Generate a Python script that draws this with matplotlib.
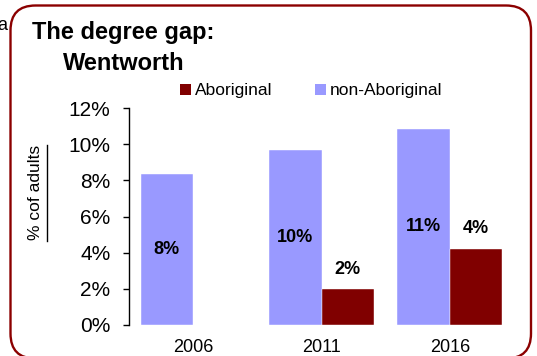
import matplotlib
matplotlib.use("Agg")
import matplotlib.pyplot as plt
import numpy as np
from matplotlib.patches import FancyBboxPatch, Patch
from matplotlib.lines import Line2D

plt.rcParams['font.family'] = ['Liberation Sans', 'DejaVu Sans']

years = ["2006", "2011", "2016"]
non_aboriginal = [8.35, 9.65, 10.85]
aboriginal = [0.0, 1.98, 4.2]
non_ab_labels = ["8%", "10%", "11%"]
ab_labels = ["", "2%", "4%"]
yticks = [0, 2, 4, 6, 8, 10, 12]
title_lines = ["The degree gap:", "Wentworth"]

W, H = 537, 356
fig = plt.figure(figsize=(W / 100, H / 100), dpi=100)

# background overlay for border (pixel coordinates, y measured from top)
bg = fig.add_axes([0, 0, 1, 1], zorder=0)
bg.set_xlim(0, W)
bg.set_ylim(0, H)
bg.axis('off')

def Y(py):
    return H - py

top_px, bot_px = 5.5, 358.5
border = FancyBboxPatch((10.5, Y(bot_px)), 520.5, bot_px - top_px,
                        boxstyle="round,pad=0,rounding_size=25",
                        fill=False, edgecolor='#8B0000', linewidth=1.7)
bg.add_patch(border)
bg.text(-3, Y(26), "a", fontsize=13, va='center', ha='left', color='black')
bg.text(123.5, Y(33), title_lines[0], fontsize=17, fontweight='bold', ha='center', va='center')
bg.text(123.5, Y(63), title_lines[1], fontsize=17, fontweight='bold', ha='center', va='center')
bg.text(36, Y(192), "% cof adults", fontsize=12.5, rotation=90, ha='center', va='center')
bg.add_line(Line2D([46.5, 46.5], [Y(145), Y(241)], color='black', linewidth=1.0))

ax = fig.add_axes([129 / W, 1 - 325 / H, (514 - 129) / W, (325 - 108) / H], zorder=1)
ax.patch.set_alpha(0)
x = np.arange(len(years))
w = 0.41
non_col = '#9999FF'
ab_col = '#800000'
ax.bar(x - w / 2, non_aboriginal, width=w, color=non_col, edgecolor='white', linewidth=0.3)
ax.bar(x + w / 2, aboriginal, width=w, color=ab_col, edgecolor='white', linewidth=0.3)

for xi, v, lab in zip(x, non_aboriginal, non_ab_labels):
    ax.text(xi - w / 2, v / 2, lab, ha='center', va='center', fontsize=13, fontweight='bold')
for xi, v, lab in zip(x, aboriginal, ab_labels):
    if lab:
        ax.annotate(lab, (xi + w / 2, v), xytext=(0, 14.5), textcoords='offset points',
                    ha='center', va='center', fontsize=13, fontweight='bold')

ax.set_xlim(-0.5, 2.5)
ax.set_ylim(0, 12)
ax.set_yticks(yticks)
ax.set_yticklabels([f"{t}%" for t in yticks], fontsize=15)
ax.set_xticks(x)
ax.set_xticklabels(years, fontsize=13)
ax.tick_params(axis='x', length=0, pad=10)
ax.tick_params(axis='y', length=4.3, width=1, pad=9, direction='out')
for s in ['top', 'right', 'bottom']:
    ax.spines[s].set_visible(False)
ax.spines['left'].set_linewidth(1)

handles = [Patch(facecolor=ab_col, edgecolor='none'), Patch(facecolor=non_col, edgecolor='none')]
fig.legend(handles, ["Aboriginal", "non-Aboriginal"], loc='center left',
           bbox_to_anchor=(180 / W, 1 - 91 / H), ncol=2, frameon=False, fontsize=12.5,
           handlelength=0.63, handleheight=0.63, handletextpad=0.23, columnspacing=2.45,
           borderpad=0, borderaxespad=0)

fig.savefig("out.png", dpi=100)
